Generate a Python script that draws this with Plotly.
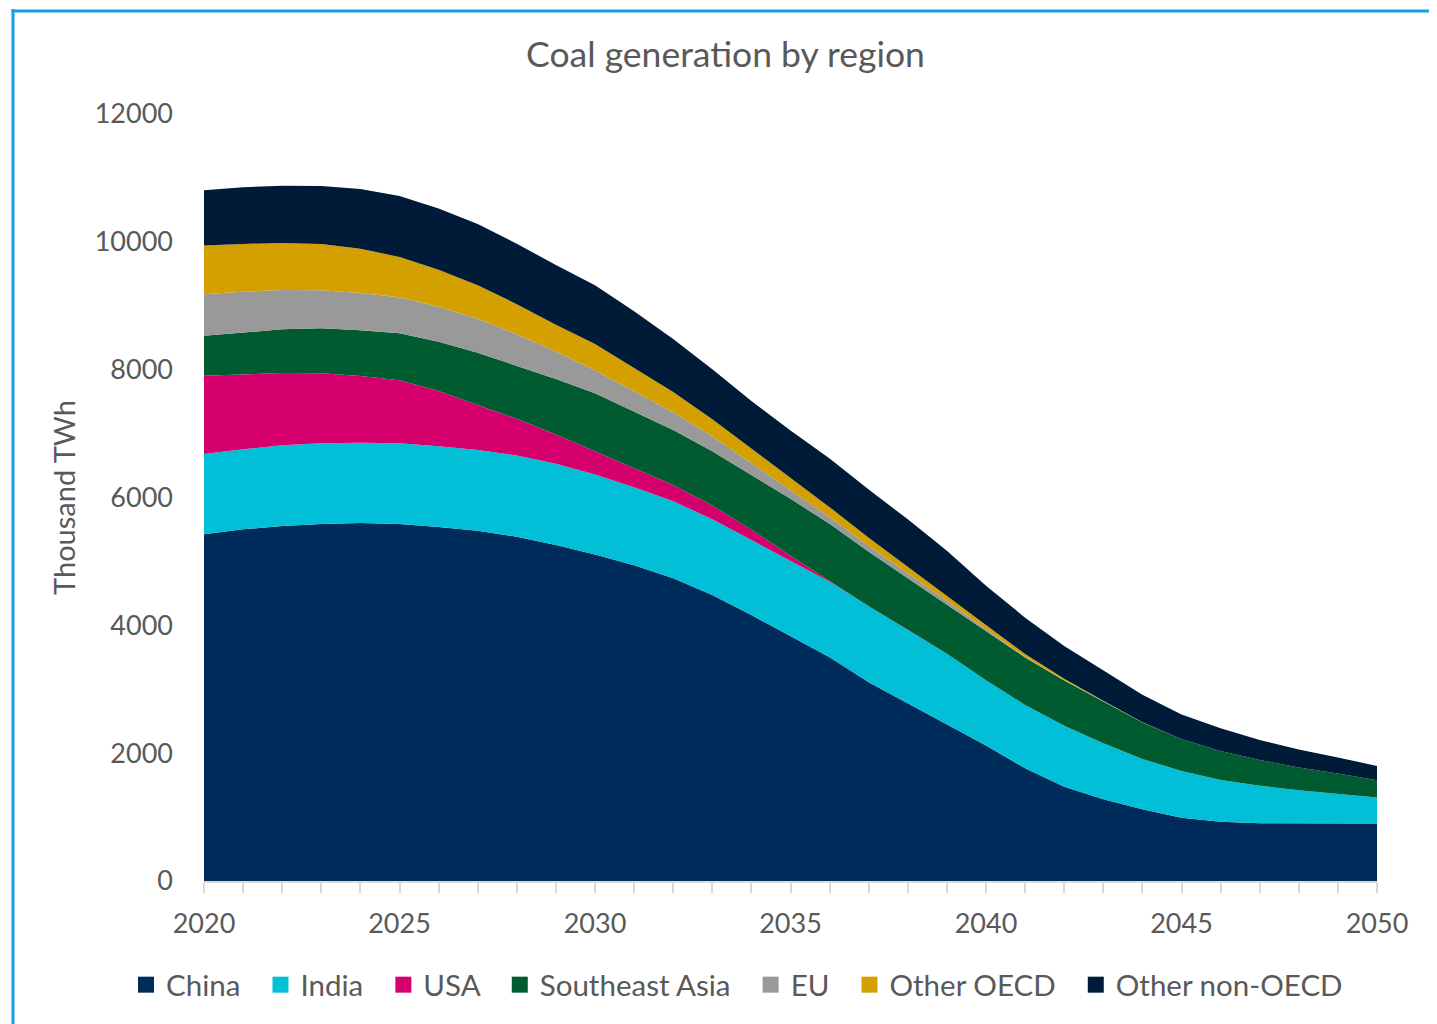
import plotly.graph_objects as go

years = list(range(2020, 2051))

china = [5424, 5502, 5554, 5585, 5600, 5585, 5540, 5481, 5387, 5257, 5110,
         4940, 4735, 4474, 4160, 3835, 3500, 3110, 2780, 2440, 2120,
         1763, 1476, 1278, 1122, 990, 928, 903, 900, 900, 900]
india = [1256, 1252, 1262, 1263, 1257, 1263, 1260, 1262, 1270, 1270, 1250,
         1220, 1205, 1186, 1175, 1180, 1183, 1190, 1150, 1115, 1020,
         990, 954, 876, 787, 731, 652, 588, 521, 469, 406]
usa = [1225, 1178, 1132, 1095, 1043, 987, 865, 704, 574, 459, 360,
       295, 255, 215, 160, 75, 15, 0, 0, 0, 0,
       0, 0, 0, 0, 0, 0, 0, 0, 0, 0]
se_asia = [626, 652, 683, 704, 715, 734, 772, 818, 834, 867, 910,
           890, 860, 850, 860, 890, 890, 850, 805, 765, 775,
           745, 705, 650, 570, 500, 454, 402, 355, 313, 271]
eu = [650, 636, 615, 595, 585, 565, 548, 530, 490, 430, 360,
      315, 280, 235, 185, 140, 105, 90, 80, 65, 25,
      12, 6, 3, 1, 0, 0, 0, 0, 0, 0]
other_oecd = [760, 748, 736, 725, 690, 630, 580, 525, 470, 420, 410,
              365, 315, 265, 230, 190, 156, 129, 104, 80, 65,
              40, 25, 13, 5, 0, 0, 0, 0, 0, 0]
other_non_oecd = [865, 887, 896, 907, 935, 955, 955, 960, 945, 935, 920,
                  890, 830, 780, 740, 740, 760, 755, 740, 700, 615,
                  570, 510, 470, 430, 385, 355, 313, 281, 250, 224]

y_ticks = list(range(0, 12001, 2000))
x_ticks = [2020, 2025, 2030, 2035, 2040, 2045, 2050]

series = [
    ("China", china, "#002C5C"),
    ("India", india, "#00BFD6"),
    ("USA", usa, "#D5006D"),
    ("Southeast Asia", se_asia, "#005C30"),
    ("EU", eu, "#999999"),
    ("Other OECD", other_oecd, "#D4A000"),
    ("Other non-OECD", other_non_oecd, "#001B38"),
]

FONT = "Lato"
GREY = "#595959"

# page has an 8px body margin, so lay out in figure coords = screen - 8
OFF = 8
W, H = 1437 - OFF, 1024 - OFF
L, T = 204 - OFF, 114 - OFF
R, B = W - (1377 - OFF), H - (881 - OFF)
pw, ph = W - L - R, H - T - B


def px_x(p):
    return (p - OFF - L) / pw


def px_y(p):
    return (H - B - (p - OFF)) / ph


fig = go.Figure()
for i, (name, vals, color) in enumerate(series):
    fig.add_trace(go.Scatter(
        x=years, y=vals, name=name, mode="lines",
        stackgroup="one", line=dict(width=0, color=color),
        fillcolor=color, legendgroup=name, showlegend=False,
    ))
    # legend swatch only; nbsp pad widens the gap between entries
    pad = "\u00a0\u00a0" if i < len(series) - 1 else ""
    fig.add_trace(go.Scatter(
        x=[None], y=[None], name=name + pad, mode="markers",
        marker=dict(symbol="square", size=17, color=color),
        legendgroup=name, showlegend=True,
    ))

fig.update_layout(
    width=W, height=H,
    margin=dict(l=L, r=R, t=T, b=B, autoexpand=False),
    paper_bgcolor="white", plot_bgcolor="white",
    font=dict(family=FONT, color=GREY, size=27),
    title=dict(text="Coal generation by region", x=(725.5 - OFF) / W, xanchor="center",
               xref="container", yref="container",
               y=1 - (55 - OFF) / H, yanchor="middle", font=dict(size=35.5, color=GREY)),
    # below and left of the plot area so plotly allows the full row width
    legend=dict(orientation="h", x=px_x(126), xanchor="left",
                y=px_y(985), yanchor="middle",
                font=dict(size=29.5, color=GREY), itemwidth=30,
                traceorder="normal", tracegroupgap=0),
    showlegend=True,
    shapes=[
        dict(type="line", xref="paper", yref="paper",
             x0=px_x(13), x1=px_x(13), y0=px_y(9), y1=px_y(1030),
             line=dict(color="#14A0E6", width=3)),
        dict(type="line", xref="paper", yref="paper",
             x0=px_x(11.5), x1=px_x(1445), y0=px_y(11), y1=px_y(11),
             line=dict(color="#14A0E6", width=3)),
    ],
)

fig.update_xaxes(
    range=[2020, 2050], showgrid=False, zeroline=False, automargin=False,
    showline=True, linecolor="#D9D9D9", linewidth=1.5,
    tickmode="array", tickvals=x_ticks, ticktext=[str(v) for v in x_ticks],
    ticks="outside", ticklen=10, tickcolor="#D9D9D9", tickwidth=1.5,
    minor=dict(dtick=1, tick0=2020, ticks="outside", ticklen=10,
               tickcolor="#D9D9D9", tickwidth=1.5, showgrid=False),
    tickfont=dict(size=27, color=GREY), ticklabelstandoff=8,
)
fig.update_yaxes(
    range=[0, 12000], showgrid=False, zeroline=False, showline=False,
    automargin=False,
    tickmode="array", tickvals=y_ticks, ticktext=[str(v) for v in y_ticks],
    ticks="", tickfont=dict(size=27, color=GREY), ticklabelstandoff=30,
    title=dict(text="Thousand TWh", font=dict(size=29, color=GREY), standoff=10),
)

fig.write_html("out.html")
